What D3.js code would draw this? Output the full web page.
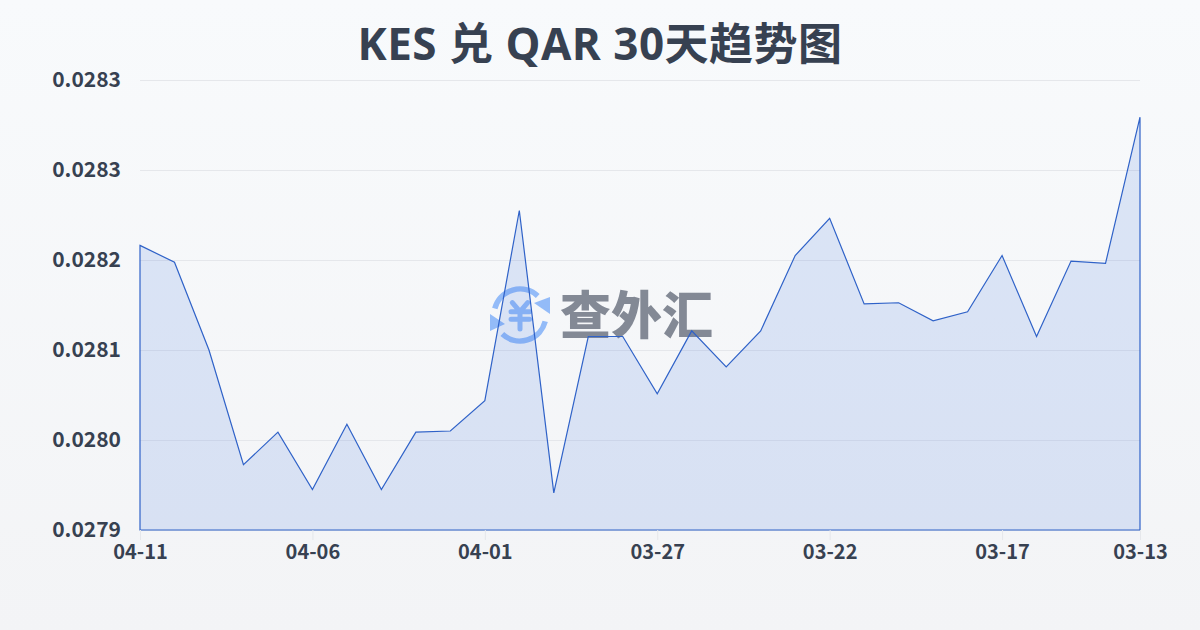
<!DOCTYPE html>
<html><head><meta charset="utf-8">
<script src="https://cdn.jsdelivr.net/npm/d3@7/dist/d3.min.js"></script>
<style>html,body{margin:0;padding:0;background:#f8fafc}svg{display:block}</style>
</head><body><div id="c"></div>
<script>
const titleText = "KES 兑 QAR 30天趋势图";
const dates = ["04-11","04-10","04-09","04-08","04-07","04-06","04-05","04-04","04-03","04-02","04-01","03-31","03-30","03-29","03-28","03-27","03-26","03-25","03-24","03-23","03-22","03-21","03-20","03-19","03-18","03-17","03-16","03-15","03-14","03-13"];
const rates = [.028193,.028178,.0281,.027998,.028027,.027976,.028034,.027976,.028027,.028028,.028055,.028224,.027973,.028112,.028112,.028061,.028117,.028085,.028117,.028184,.028217,.028141,.028142,.028126,.028134,.028184,.028112,.028179,.028177,.028307];
const xTickLabels = ["04-11","04-06","04-01","03-27","03-22","03-17","03-13"];
const yTicks = [.02794,.02802,.0281,.02818,.02826,.02834];
const yDomain = [.02794,.02834];

const W=1200,H=630,m={l:140,r:1140,t:80,b:530};
const font='"Noto Sans CJK SC",sans-serif', titleFont='"Open Sans","Noto Sans CJK SC",sans-serif';
const ink="#374151", iconBlue="#93bbf8";
const svg=d3.select("#c").append("svg").attr("width",W).attr("height",H).attr("viewBox",`0 0 ${W} ${H}`);
const defs=svg.append("defs");
const bg=defs.append("linearGradient").attr("id","bg").attr("x1",0).attr("y1",0).attr("x2",0).attr("y2",1);
bg.append("stop").attr("offset",0).attr("stop-color","#f8fafc");
bg.append("stop").attr("offset",1).attr("stop-color","#f3f4f6");
svg.append("rect").attr("width",W).attr("height",H).attr("fill","url(#bg)");

const x=d3.scalePoint().domain(dates).range([m.l,m.r]);
const y=d3.scaleLinear().domain(yDomain).range([m.b,m.t]);

svg.append("text").attr("x",600).attr("y",60).attr("text-anchor","middle")
  .attr("font-family",titleFont).attr("font-weight",700).attr("font-size",44).attr("letter-spacing",.5).attr("fill",ink).text(titleText);

const yAxis=d3.axisLeft(y).tickValues(yTicks).tickFormat(d3.format(".4f")).tickSize(-(m.r-m.l)).tickPadding(19);
const gy=svg.append("g").attr("transform",`translate(${m.l},0)`).call(yAxis);
gy.select(".domain").remove();
gy.selectAll(".tick line").attr("stroke","#e5e7eb").attr("stroke-width",1);
gy.selectAll(".tick text").attr("font-family",font).attr("font-weight",700).attr("font-size",21).attr("fill",ink).attr("dy","0.3em");

const wm=svg.append("g");
const ic=wm.append("g").attr("transform","translate(520,315)").attr("fill","none").attr("stroke",iconBlue).attr("stroke-width",5.5).attr("stroke-linecap","round");
ic.append("path").attr("d",d3.arc()({innerRadius:26,outerRadius:26,startAngle:-1.32,endAngle:.75}));
ic.append("path").attr("d",d3.arc()({innerRadius:26,outerRadius:26,startAngle:1.82,endAngle:3.89}));
ic.append("path").attr("d","M30,-18 L30,-1 L14,-12Z").attr("fill",iconBlue).attr("stroke","none");
ic.append("path").attr("d","M-30,-1 L-30,16 L-15,9Z").attr("fill",iconBlue).attr("stroke","none");
ic.append("path").attr("d","M-7.7,-12.3 L0,-3.3 L7.7,-12.3 M0,-3.3 V14 M-9,-3.3 H9.5 M-9,4.3 H9.5").attr("stroke-width",5);
wm.append("text").attr("x",560).attr("y",334).attr("font-family",'"Noto Sans CJK SC"').attr("font-weight",900).attr("font-size",51).attr("fill","#6b7280").attr("opacity",.82).text("查外汇");

const area=d3.area().x((d,i)=>x(dates[i])).y0(m.b).y1(d=>y(d));
svg.append("path").datum(rates).attr("d",d=>area(d)+"Z").attr("fill","#3b6fe0").attr("fill-opacity",.15).attr("stroke","#2f62c8").attr("stroke-width",1.2).attr("stroke-linejoin","miter");

const xAxis=d3.axisBottom(x).tickValues(xTickLabels).tickSize(10).tickPadding(5);
const gx=svg.append("g").attr("transform",`translate(0,${m.b})`).call(xAxis);
gx.select(".domain").remove();
gx.selectAll(".tick line").attr("stroke","#e5e7eb");
gx.selectAll(".tick text").attr("font-family",font).attr("font-weight",700).attr("font-size",20).attr("fill",ink);
</script></body></html>
